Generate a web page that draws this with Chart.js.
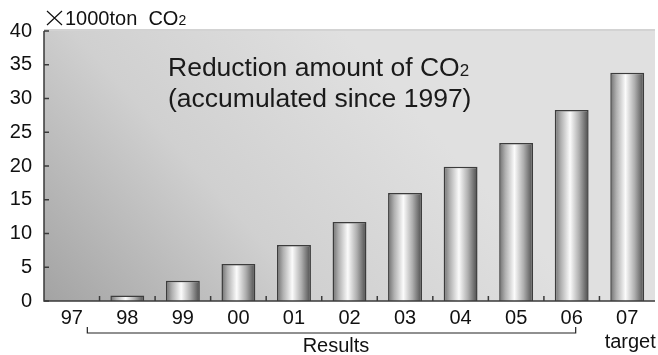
<!DOCTYPE html>
<html>
<head>
<meta charset="utf-8">
<script src="https://cdn.jsdelivr.net/npm/chart.js@4"></script>
<style>
  html, body { margin: 0; padding: 0; background: #fff; }
  #wrap { width: 658px; height: 355px; }
</style>
</head>
<body>
<div id="wrap"><canvas id="chart" width="658" height="355"></canvas></div>
<script>
const years = ['97', '98', '99', '00', '01', '02', '03', '04', '05', '06', '07'];
const reduction = [null, 0.8, 3.0, 5.5, 8.3, 11.7, 16.0, 19.9, 23.4, 28.3, 33.8]; // ×1000 ton CO2
const yTicks = [0, 5, 10, 15, 20, 25, 30, 35, 40];
const FONT = 'Liberation Sans, Arial, sans-serif';

const ctx = document.getElementById('chart').getContext('2d');

// cylinder look for each bar, spread across the bar's own width
function barFill(c) {
    const chart = c.chart;
    const xs = chart.scales.x;
    if (!xs || !chart.chartArea) return '#ccc';
    const cx = xs.getPixelForValue(c.dataIndex);
    const hw = xs.width / years.length * 0.61 / 2;
    const g = chart.ctx.createLinearGradient(cx - hw, 0, cx + hw, 0);
    g.addColorStop(0, '#6e6e6e');
    g.addColorStop(0.18, '#b0b0b0');
    g.addColorStop(0.45, '#fbfbfb');
    g.addColorStop(0.72, '#aeaeae');
    g.addColorStop(1, '#4a4a4a');
    return g;
}

const decor = {
    id: 'decor',
    beforeDatasetsDraw(chart) {
        const { ctx, chartArea: a } = chart;
        ctx.save();
        const g = ctx.createLinearGradient(a.left, a.bottom, a.left + 300, a.top);
        g.addColorStop(0, '#a3a3a3');
        g.addColorStop(0.5, '#d0d0d0');
        g.addColorStop(1, '#e0e0e0');
        ctx.fillStyle = g;
        ctx.fillRect(a.left, a.top, a.right - a.left, a.bottom - a.top);
        // top border
        ctx.strokeStyle = '#c4c4c4';
        ctx.lineWidth = 1.5;
        ctx.beginPath();
        ctx.moveTo(a.left, a.top - 1);
        ctx.lineTo(a.right, a.top - 1);
        ctx.stroke();
        ctx.restore();
    },
    afterDatasetsDraw(chart) {
        const { ctx, chartArea: a, scales } = chart;
        ctx.save();
        ctx.strokeStyle = '#3a3a3a';
        ctx.lineWidth = 1.5;
        // axes
        ctx.beginPath();
        ctx.moveTo(a.left, a.top);
        ctx.lineTo(a.left, a.bottom);
        ctx.lineTo(a.right, a.bottom);
        ctx.stroke();
        // inward y ticks
        ctx.beginPath();
        yTicks.forEach(v => {
            const y = scales.y.getPixelForValue(v);
            ctx.moveTo(a.left, y);
            ctx.lineTo(a.left + 5, y);
        });
        // inward x ticks between categories
        const step = scales.x.width / years.length;
        for (let i = 1; i < years.length; i++) {
            const x = a.left + step * i;
            ctx.moveTo(x, a.bottom);
            ctx.lineTo(x, a.bottom - 5);
        }
        ctx.stroke();

        // unit label, the × drawn as two thin strokes
        ctx.strokeStyle = '#111';
        ctx.lineWidth = 1.2;
        ctx.beginPath();
        ctx.moveTo(47, 11); ctx.lineTo(62, 25);
        ctx.moveTo(62, 11); ctx.lineTo(47, 25);
        ctx.stroke();
        ctx.fillStyle = '#111';
        ctx.textBaseline = 'alphabetic';
        ctx.font = '20px ' + FONT;
        ctx.fillText('1000ton  CO', 65, 25);
        const uw = ctx.measureText('1000ton  CO').width;
        ctx.font = '14px ' + FONT;
        ctx.fillText('2', 65 + uw, 25);

        // caption inside plot
        ctx.font = '26.5px ' + FONT;
        ctx.fillStyle = '#1a1a1a';
        ctx.fillText('Reduction amount of CO', 168, 76);
        const cw = ctx.measureText('Reduction amount of CO').width;
        ctx.font = '17px ' + FONT;
        ctx.fillText('2', 168 + cw, 76);
        ctx.font = '26.5px ' + FONT;
        ctx.fillText('(accumulated since 1997)', 168, 107);

        // "Results" bracket under 98..06
        const x98 = scales.x.getPixelForValue(1) - 40;
        const x06 = scales.x.getPixelForValue(9) + 4;
        ctx.strokeStyle = '#222';
        ctx.lineWidth = 1.2;
        ctx.beginPath();
        ctx.moveTo(x98, 327);
        ctx.lineTo(x98, 333);
        ctx.lineTo(x06, 333);
        ctx.lineTo(x06, 327);
        ctx.stroke();
        ctx.font = '20px ' + FONT;
        ctx.fillStyle = '#111';
        ctx.textAlign = 'center';
        ctx.fillText('Results', 336, 352);
        ctx.fillText('target', scales.x.getPixelForValue(10) + 3, 348);
        ctx.restore();
    }
};

new Chart(ctx, {
    type: 'bar',
    data: {
        labels: years,
        datasets: [{
            data: reduction,
            backgroundColor: barFill,
            borderColor: '#3c3c3c',
            borderWidth: 1.5,
            borderSkipped: 'bottom',
            barPercentage: 0.61,
            categoryPercentage: 1
        }]
    },
    options: {
        responsive: false,
        animation: false,
        layout: { padding: { top: 31, right: 3, left: 0, bottom: 0 } },
        plugins: { legend: { display: false }, tooltip: { enabled: false } },
        scales: {
            x: {
                grid: { display: false, drawTicks: false },
                border: { display: false },
                ticks: { color: '#111', font: { family: FONT, size: 20 }, padding: 5, maxRotation: 0 },
                afterFit(s) { s.height = 54; }
            },
            y: {
                min: 0,
                max: 40,
                grid: { display: false, drawTicks: false },
                border: { display: false },
                ticks: { stepSize: 5, color: '#111', font: { family: FONT, size: 20 }, padding: 12 },
                afterFit(s) { s.width = 44; }
            }
        }
    },
    plugins: [decor]
});
</script>
</body>
</html>
